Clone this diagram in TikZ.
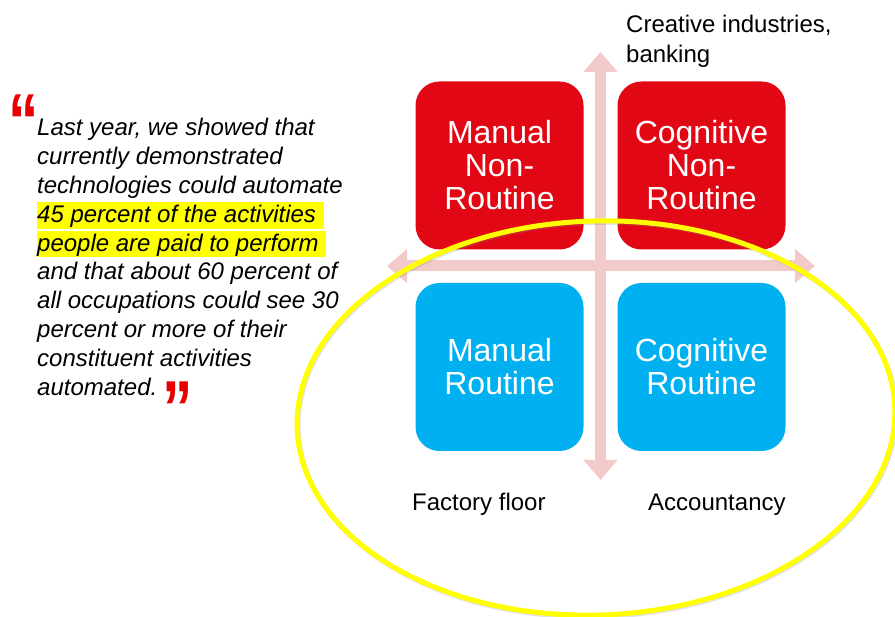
\documentclass[tikz,border=0pt]{standalone}
\usepackage{fontspec}
\usepackage{graphicx}
\setmainfont{Liberation Sans}
\usetikzlibrary{arrows.meta}

\definecolor{boxred}{RGB}{226,7,20}
\definecolor{boxblue}{RGB}{0,176,240}
\definecolor{axispink}{RGB}{242,202,202}
\definecolor{marker}{RGB}{255,255,0}
\definecolor{quotered}{RGB}{232,0,0}

\begin{document}
\begin{tikzpicture}[x=1pt,y=-1pt,
  quad/.style={rounded corners=24pt, inner sep=0pt, minimum width=168pt,
    minimum height=168pt, text=white, align=center,
    font=\fontsize{32}{33}\selectfont},
  redquad/.style={quad, fill=boxred},
  bluequad/.style={quad, fill=boxblue},
  axisarrow/.style={draw=axispink, line width=11pt,
    {Triangle[length=20pt 0, width=33pt 0]}-{Triangle[length=20pt 0, width=33pt 0]}},
  txt/.style={anchor=base west, inner sep=0pt, font=\fontsize{24}{29}\selectfont},
  quoteline/.style={txt, font=\fontsize{24}{29}\selectfont\itshape},
  quotemark/.style={anchor=base west, inner sep=0pt, text=quotered,
    font=\fontsize{78}{78}\selectfont\bfseries},
  hilite/.style={fill=marker, draw=none},
  ring/.style={draw=marker, line width=5pt},
  ringshadow/.style={draw=black!45, line width=5pt, opacity=0.25},
]
% canvas
\fill[white] (0,0) rectangle (895,617);
\useasboundingbox (0,0) rectangle (895,617);

% highlighted phrase in the quotation
\fill[hilite] (37,202) rectangle (324,229.5);
\fill[hilite] (37,231) rectangle (326,257.5);

% quotation
\node[quotemark] (qopen) at (8,149) {\scalebox{0.78}[1]{“}};
\node[quoteline] (q1)  at (37,136.0) {Last year, we showed that};
\node[quoteline] (q2)  at (37,164.8) {currently demonstrated};
\node[quoteline] (q3)  at (37,193.6) {technologies could automate};
\node[quoteline] (q4)  at (37,222.4) {45 percent of the activities};
\node[quoteline] (q5)  at (37,251.2) {people are paid to perform};
\node[quoteline] (q6)  at (37,280.0) {and that about 60 percent of};
\node[quoteline] (q7)  at (37,308.8) {all occupations could see 30};
\node[quoteline] (q8)  at (37,337.6) {percent or more of their};
\node[quoteline] (q9)  at (37,366.4) {constituent activities};
\node[quoteline] (q10) at (37,395.2) {automated.};
\node[quotemark] (qclose) at (162,436) {\scalebox{0.78}[1]{”}};

% axes
\coordinate (vtop) at (600.5,52);
\coordinate (vbot) at (600.5,480);
\coordinate (hleft) at (387,266);
\coordinate (hright) at (815,266);
\draw[axisarrow] (hleft) -- (hright);
\draw[axisarrow] (vtop) -- (vbot);

% quadrants
\node[redquad]  (mnr) at (499.5,165.5) {Manual\\Non-\\Routine};
\node[redquad]  (cnr) at (701.5,165.5) {Cognitive\\Non-\\Routine};
\node[bluequad] (mr)  at (499.5,367)   {Manual\\Routine};
\node[bluequad] (cr)  at (701.5,367)   {Cognitive\\Routine};

% example occupations
\node[txt] (creative) at (626,33) {Creative industries,};
\node[txt] (banking)  at (626,63) {banking};
\node[txt] (factory)  at (412,511) {Factory floor};
\node[txt] (account)  at (648,511) {Accountancy};

% ring round the routine quadrants
\draw[ringshadow, rotate around={2:(597,419.5)}] (597,419.5) ellipse [x radius=299, y radius=197];
\draw[ring, rotate around={2:(596,418)}] (596,418) ellipse [x radius=299, y radius=197];
\end{tikzpicture}
\end{document}
